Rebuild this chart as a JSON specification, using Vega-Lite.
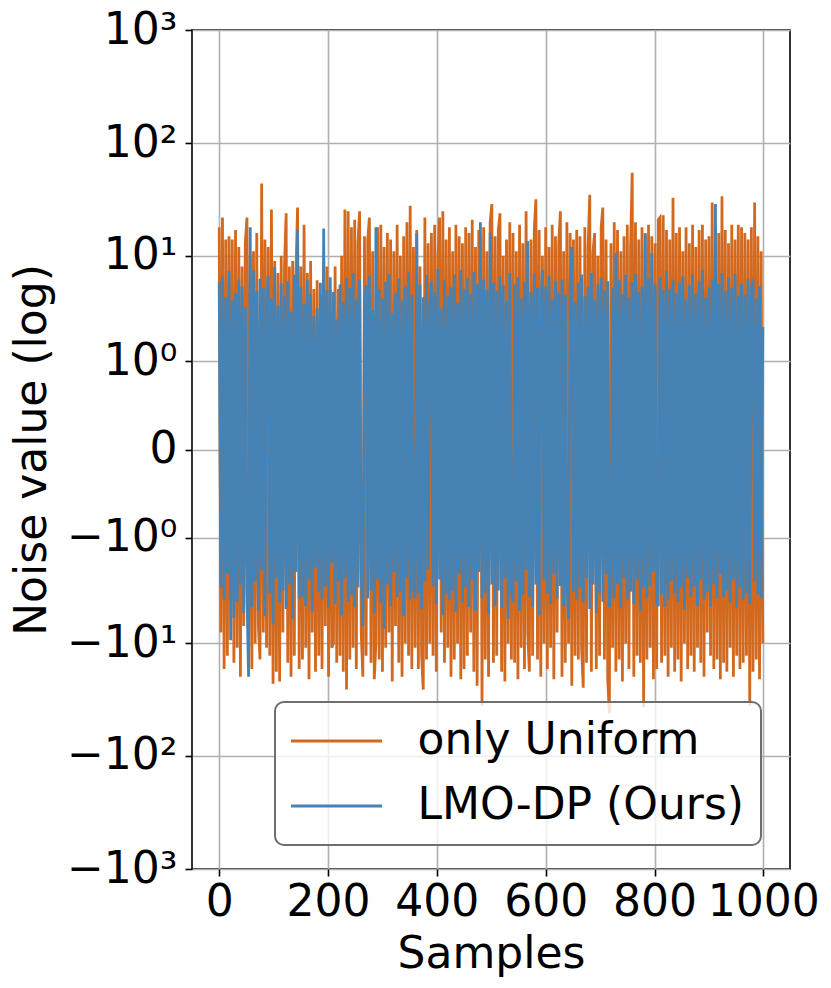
{
  "$schema": "https://vega.github.io/schema/vega-lite/v6.json",
  "width": 598,
  "height": 839,
  "autosize": {"type": "none"},
  "padding": {"left": 192, "top": 30, "right": 41, "bottom": 119},
  "background": "white",
  "config": {
    "font": "DejaVu Sans",
    "view": {"stroke": "#000000", "strokeWidth": 1.6},
    "axis": {
      "domain": false, "grid": true, "gridColor": "#b0b0b0", "gridWidth": 1.6,
      "tickColor": "#000000", "tickWidth": 1.6, "tickSize": 7,
      "labelFont": "DejaVu Sans", "labelFontSize": 44, "labelColor": "#000000",
      "titleFont": "DejaVu Sans", "titleFontSize": 44, "titleFontWeight": "normal", "titleColor": "#000000",
      "labelFlush": false, "labelOverlap": false
    },
    "legend": {"strokeWidth": 2}
  },
  "data": {"values": [
    {"x":0,"u":18,"l":5.8},{"x":3,"u":-8,"l":-3.1},{"x":6,"u":22,"l":6.5},{"x":9,"u":-17,"l":-4.0},{"x":12,"u":14,"l":4.2},
    {"x":15,"u":-13,"l":-2.3},{"x":18,"u":15,"l":7.3},{"x":21,"u":-4,"l":-9.4},{"x":24,"u":14,"l":3.9},{"x":27,"u":-15,"l":-5.9},
    {"x":30,"u":17,"l":4.6},{"x":33,"u":-11,"l":-4.2},{"x":36,"u":12,"l":6.1},{"x":39,"u":-20,"l":-2.9},{"x":42,"u":8,"l":5.3},
    {"x":45,"u":-7,"l":-5.3},{"x":48,"u":13,"l":3.4},{"x":51,"u":22,"l":-3.6},{"x":54,"u":-13,"l":-20},{"x":57,"u":10,"l":18},
    {"x":60,"u":-17,"l":-4.7},{"x":63,"u":11,"l":7.4},{"x":66,"u":-10,"l":-2.7},{"x":69,"u":16,"l":4.8},{"x":72,"u":-7,"l":-5.1},
    {"x":75,"u":-14,"l":6.2},{"x":78,"u":44,"l":-2.1},{"x":81,"u":-8,"l":5.1},{"x":84,"u":14,"l":-5.7},{"x":87,"u":-11,"l":3.8},
    {"x":90,"u":12,"l":6.6},{"x":93,"u":-13,"l":-3.5},{"x":96,"u":26,"l":4.1},{"x":99,"u":-23,"l":-6.8},{"x":102,"u":9,"l":7.9},
    {"x":105,"u":-18,"l":-2.5},{"x":108,"u":7,"l":3.5},{"x":111,"u":-22,"l":-4.3},{"x":114,"u":10,"l":5.6},{"x":117,"u":-8,"l":-3.3},
    {"x":120,"u":8,"l":4.3},{"x":123,"u":24,"l":-4.9},{"x":126,"u":-15,"l":5.9},{"x":129,"u":8,"l":-2.9},{"x":132,"u":-20,"l":3.1},
    {"x":135,"u":9,"l":-6.0},{"x":138,"u":-13,"l":6.8},{"x":141,"u":7,"l":-2.2},{"x":144,"u":27,"l":17},{"x":147,"u":-17,"l":-3.9},
    {"x":150,"u":8,"l":5.2},{"x":153,"u":-14,"l":-3.8},{"x":156,"u":19,"l":3.6},{"x":159,"u":-11,"l":-4.6},{"x":162,"u":7,"l":6.0},
    {"x":165,"u":-21,"l":-2.6},{"x":168,"u":9,"l":4.5},{"x":171,"u":-8,"l":-5.2},{"x":174,"u":5,"l":2.8},{"x":177,"u":-18,"l":-2.0},
    {"x":180,"u":6,"l":3.3},{"x":183,"u":-13,"l":-3.4},{"x":186,"u":4.5,"l":5.7},{"x":189,"u":-17,"l":-4.0},{"x":192,"u":9,"l":17.6},
    {"x":195,"u":-7,"l":-3.0},{"x":198,"u":8,"l":4.9},{"x":201,"u":-20,"l":-4.8},{"x":204,"u":5,"l":6.4},{"x":207,"u":-11,"l":-1.8},
    {"x":210,"u":-10,"l":4.7},{"x":213,"u":8,"l":-4.4},{"x":216,"u":-15,"l":2.6},{"x":219,"u":5,"l":-2.7},{"x":222,"u":-13,"l":5.5},
    {"x":225,"u":10,"l":-5.6},{"x":228,"u":-18,"l":3.8},{"x":231,"u":26,"l":-2.5},{"x":234,"u":-26,"l":6.3},{"x":237,"u":25,"l":-4.2},
    {"x":240,"u":-14,"l":5.1},{"x":243,"u":18,"l":-3.6},{"x":246,"u":-11,"l":7.0},{"x":249,"u":21,"l":-4.7},{"x":252,"u":-17,"l":4.0},
    {"x":255,"u":13,"l":-3.1},{"x":258,"u":25,"l":6.1},{"x":261,"u":-8,"l":-2.3},{"x":264,"u":-20,"l":-7},{"x":267,"u":15,"l":3.7},
    {"x":270,"u":-13,"l":5.4},{"x":273,"u":14,"l":-3.9},{"x":276,"u":22,"l":6.6},{"x":279,"u":-15,"l":-3.3},{"x":282,"u":11,"l":3.2},
    {"x":285,"u":-21,"l":-5.3},{"x":288,"u":-10,"l":18},{"x":291,"u":18,"l":-2.6},{"x":294,"u":-14,"l":5.0},{"x":297,"u":19,"l":-4.3},
    {"x":300,"u":-18,"l":4.1},{"x":303,"u":12,"l":-7.4},{"x":306,"u":-11,"l":5.8},{"x":309,"u":16,"l":-2.9},{"x":312,"u":-8,"l":6.9},
    {"x":315,"u":14,"l":-4.6},{"x":318,"u":-22,"l":3.0},{"x":321,"u":11,"l":-2.2},{"x":324,"u":-7,"l":4.6},{"x":327,"u":19,"l":-3.8},
    {"x":330,"u":-15,"l":6.2},{"x":333,"u":10,"l":-3.4},{"x":336,"u":-20,"l":3.9},{"x":339,"u":15,"l":-5.7},{"x":342,"u":-10,"l":5.3},
    {"x":345,"u":20,"l":-2.5},{"x":348,"u":-13,"l":7.1},{"x":351,"u":28,"l":-4.0},{"x":354,"u":-17,"l":4.4},{"x":357,"u":12,"l":-3.1},
    {"x":360,"u":-11,"l":-3.9},{"x":363,"u":17,"l":16},{"x":366,"u":-17,"l":-3.5},{"x":369,"u":8,"l":5.5},{"x":372,"u":-13,"l":-4.9},
    {"x":375,"u":-26,"l":4.2},{"x":378,"u":22,"l":-2.7},{"x":381,"u":-14,"l":6.7},{"x":384,"u":13,"l":-2.1},{"x":387,"u":-10,"l":3.6},
    {"x":390,"u":16,"l":5.9},{"x":393,"u":-13,"l":-3.0},{"x":396,"u":19,"l":4.7},{"x":399,"u":-18,"l":-4.4},{"x":402,"u":10,"l":7.6},
    {"x":405,"u":22,"l":-2.6},{"x":408,"u":-8,"l":3.3},{"x":411,"u":25,"l":-5.6},{"x":414,"u":-15,"l":6.0},{"x":417,"u":14,"l":-3.6},
    {"x":420,"u":-11,"l":4.3},{"x":423,"u":18,"l":-4.0},{"x":426,"u":-20,"l":5.2},{"x":429,"u":11,"l":-3.3},{"x":432,"u":-14,"l":6.8},
    {"x":435,"u":19,"l":-5.2},{"x":438,"u":-10,"l":3.7},{"x":441,"u":15,"l":-2.3},{"x":444,"u":-21,"l":7.4},{"x":447,"u":13,"l":-4.3},
    {"x":450,"u":-17,"l":5.0},{"x":453,"u":18,"l":-3.1},{"x":456,"u":-13,"l":6.3},{"x":459,"u":16,"l":-4.7},{"x":462,"u":-8,"l":4.5},
    {"x":465,"u":21,"l":-2.6},{"x":468,"u":-18,"l":7.2},{"x":471,"u":12,"l":-5.1},{"x":474,"u":-24,"l":5.6},{"x":477,"u":17,"l":-2.2},
    {"x":480,"u":14,"l":20},{"x":483,"u":-36,"l":-3.9},{"x":486,"u":18,"l":6.1},{"x":489,"u":-14,"l":-3.5},{"x":492,"u":11,"l":4.9},
    {"x":495,"u":-20,"l":-5.5},{"x":498,"u":20,"l":16},{"x":501,"u":29,"l":-2.9},{"x":504,"u":-15,"l":5.7},{"x":507,"u":15,"l":-4.6},
    {"x":510,"u":-13,"l":4.8},{"x":513,"u":17,"l":-3.3},{"x":516,"u":24,"l":6.5},{"x":519,"u":-18,"l":-4.8},{"x":522,"u":10,"l":5.4},
    {"x":525,"u":-22,"l":-2.5},{"x":528,"u":14,"l":3.9},{"x":531,"u":-10,"l":-6.0},{"x":534,"u":20,"l":7.0},{"x":537,"u":-14,"l":-3.4},
    {"x":540,"u":16,"l":-4.2},{"x":543,"u":-15,"l":5.5},{"x":546,"u":11,"l":-2.7},{"x":549,"u":-21,"l":6.4},{"x":552,"u":19,"l":-5.1},
    {"x":555,"u":-11,"l":4.1},{"x":558,"u":13,"l":-3.6},{"x":561,"u":-17,"l":5.8},{"x":564,"u":25,"l":-2.1},{"x":567,"u":-8,"l":13.6},
    {"x":570,"u":-18,"l":-3.8},{"x":573,"u":14,"l":4.7},{"x":576,"u":-13,"l":-4.7},{"x":579,"u":17,"l":6.9},{"x":582,"u":32,"l":-2.9},
    {"x":585,"u":-14,"l":5.1},{"x":588,"u":17,"l":-5.6},{"x":591,"u":-20,"l":3.4},{"x":594,"u":10,"l":7.5},{"x":597,"u":-10,"l":-2.6},
    {"x":600,"u":18,"l":5.3},{"x":603,"u":-17,"l":-3.5},{"x":606,"u":12,"l":6.6},{"x":609,"u":-11,"l":-4.4},{"x":612,"u":19,"l":4.0},
    {"x":615,"u":-21,"l":-2.3},{"x":618,"u":15,"l":5.9},{"x":621,"u":-8,"l":-3.9},{"x":624,"u":13,"l":4.6},{"x":627,"u":25,"l":-3.0},
    {"x":630,"u":-20,"l":6.1},{"x":633,"u":11,"l":-4.6},{"x":636,"u":-15,"l":4.4},{"x":639,"u":20,"l":-2.7},{"x":642,"u":-10,"l":-6},
    {"x":645,"u":16,"l":5.0},{"x":648,"u":-24,"l":12},{"x":651,"u":14,"l":-3.4},{"x":654,"u":-13,"l":3.8},{"x":657,"u":17,"l":-4.0},
    {"x":660,"u":-14,"l":5.7},{"x":663,"u":15,"l":-3.1},{"x":666,"u":-11,"l":6.8},{"x":669,"u":-25,"l":-4.3},{"x":672,"u":18,"l":4.3},
    {"x":675,"u":-15,"l":-2.5},{"x":678,"u":12,"l":5.2},{"x":681,"u":35,"l":-4.9},{"x":684,"u":-18,"l":7.0},{"x":687,"u":11,"l":-2.9},
    {"x":690,"u":16,"l":4.0},{"x":693,"u":-17,"l":-5.3},{"x":696,"u":10,"l":5.5},{"x":699,"u":-13,"l":-3.5},{"x":702,"u":18,"l":6.3},
    {"x":705,"u":27,"l":-4.2},{"x":708,"u":-14,"l":4.8},{"x":711,"u":14,"l":-2.3},{"x":714,"u":-21,"l":5.9},{"x":717,"u":-42,"l":-4.7},
    {"x":720,"u":13,"l":-3.3},{"x":723,"u":-11,"l":5.1},{"x":726,"u":20,"l":-3.9},{"x":729,"u":-18,"l":10.6},{"x":732,"u":17,"l":-2.9},
    {"x":735,"u":-14,"l":6.0},{"x":738,"u":11,"l":-4.8},{"x":741,"u":-22,"l":4.5},{"x":744,"u":15,"l":-2.5},{"x":747,"u":-10,"l":6.7},
    {"x":750,"u":19,"l":-4.0},{"x":753,"u":-17,"l":4.2},{"x":756,"u":12,"l":-3.4},{"x":759,"u":55,"l":5.8},{"x":762,"u":-20,"l":-4.4},
    {"x":765,"u":20,"l":6.9},{"x":768,"u":-13,"l":-2.6},{"x":771,"u":14,"l":4.7},{"x":774,"u":-15,"l":-5.1},{"x":777,"u":18,"l":5.3},
    {"x":780,"u":-37,"l":-3.1},{"x":783,"u":16,"l":15.6},{"x":786,"u":-14,"l":-3.9},{"x":789,"u":19,"l":6.2},{"x":792,"u":-11,"l":-3.0},
    {"x":795,"u":15,"l":10.6},{"x":798,"u":-21,"l":-2.2},{"x":801,"u":13,"l":5.5},{"x":804,"u":-17,"l":-4.3},{"x":807,"u":21,"l":-4.6},
    {"x":810,"u":22,"l":6.4},{"x":813,"u":-15,"l":-3.6},{"x":816,"u":23,"l":4.9},{"x":819,"u":-13,"l":-4.7},{"x":822,"u":17,"l":7.3},
    {"x":825,"u":-20,"l":-4.0},{"x":828,"u":14,"l":5.0},{"x":831,"u":-11,"l":-2.7},{"x":834,"u":33,"l":6.0},{"x":837,"u":-18,"l":-3.5},
    {"x":840,"u":16,"l":4.6},{"x":843,"u":-14,"l":-4.2},{"x":846,"u":18,"l":5.7},{"x":849,"u":-22,"l":-3.1},{"x":852,"u":11,"l":6.5},
    {"x":855,"u":-10,"l":-4.9},{"x":858,"u":18,"l":4.0},{"x":861,"u":-17,"l":-2.5},{"x":864,"u":13,"l":5.4},{"x":867,"u":-13,"l":-3.8},
    {"x":870,"u":19,"l":6.8},{"x":873,"u":-18,"l":-3.0},{"x":876,"u":12,"l":4.5},{"x":879,"u":-11,"l":-4.6},{"x":882,"u":17,"l":5.9},
    {"x":885,"u":-15,"l":-2.6},{"x":888,"u":19,"l":7.4},{"x":891,"u":-20,"l":-4.0},{"x":894,"u":14,"l":4.2},{"x":897,"u":-8,"l":-3.4},
    {"x":900,"u":15,"l":5.2},{"x":903,"u":-13,"l":-4.7},{"x":906,"u":30,"l":6.1},{"x":909,"u":-17,"l":-2.9},{"x":912,"u":18,"l":29},
    {"x":915,"u":-14,"l":-3.9},{"x":918,"u":16,"l":5.6},{"x":921,"u":-21,"l":-2.3},{"x":924,"u":34,"l":7.0},{"x":927,"u":-15,"l":-3.8},
    {"x":930,"u":17,"l":4.8},{"x":933,"u":-18,"l":-3.3},{"x":936,"u":13,"l":6.4},{"x":939,"u":-11,"l":-4.3},{"x":942,"u":19,"l":5.1},
    {"x":945,"u":-20,"l":-2.6},{"x":948,"u":14,"l":6.9},{"x":951,"u":-13,"l":-4.8},{"x":954,"u":19,"l":4.3},{"x":957,"u":-17,"l":-3.1},
    {"x":960,"u":18,"l":5.6},{"x":963,"u":-15,"l":-4.0},{"x":966,"u":16,"l":4.4},{"x":969,"u":-13,"l":-3.5},{"x":972,"u":14,"l":6.2},
    {"x":975,"u":-36,"l":-4.4},{"x":978,"u":18,"l":5.0},{"x":981,"u":-18,"l":6.1},{"x":984,"u":30,"l":-2.7},{"x":987,"u":-14,"l":4.1},
    {"x":990,"u":15,"l":-3.6},{"x":993,"u":-21,"l":5.3},{"x":996,"u":11,"l":-3.9},{"x":999,"u":-10,"l":2.2}
  ]},
  "encoding": {
    "x": {
      "field": "x", "type": "quantitative",
      "scale": {"domain": [-50, 1049], "nice": false, "zero": false},
      "axis": {"title": "Samples", "values": [0, 200, 400, 600, 800, 1000], "format": "d", "labelPadding": 4, "titlePadding": 8}
    }
  },
  "layer": [
    {
      "mark": {"type": "line", "strokeWidth": 2.8, "clip": true},
      "encoding": {
        "y": {
          "field": "u", "type": "quantitative",
          "scale": {"type": "symlog", "constant": 0.2, "domain": [-1000, 1000], "nice": false},
          "axis": {
            "title": "Noise value (log)",
            "values": [-1000, -100, -10, -1, 0, 1, 10, 100, 1000],
            "labelExpr": "(datum.value < 0 ? '−' : '') + (abs(datum.value) == 1000 ? '10³' : abs(datum.value) == 100 ? '10²' : abs(datum.value) == 10 ? '10¹' : abs(datum.value) == 1 ? '10⁰' : '0')",
            "labelPadding": 8, "titlePadding": 12
          }
        },
        "color": {
          "datum": "only Uniform", "type": "nominal",
          "scale": {"domain": ["only Uniform", "LMO-DP (Ours)"], "range": ["#d2691e", "#4682b4"]},
          "legend": {
            "title": null, "orient": "none", "legendX": 83, "legendY": 672,
            "padding": 17, "rowPadding": 21, "symbolType": "M-2.6,0H2.6", "symbolSize": 1225,
            "symbolStrokeWidth": 2.8, "symbolOffset": 22.5, "labelOffset": 59,
            "labelFont": "DejaVu Sans", "labelFontSize": 44, "labelColor": "#000000", "labelLimit": 600,
            "strokeColor": "#6e6e6e", "cornerRadius": 9, "fillColor": "rgba(255,255,255,0.8)"
          }
        }
      }
    },
    {
      "mark": {"type": "line", "strokeWidth": 2.8, "clip": true},
      "encoding": {
        "y": {
          "field": "l", "type": "quantitative",
          "scale": {"type": "symlog", "constant": 0.2, "domain": [-1000, 1000], "nice": false},
          "axis": {
            "title": "Noise value (log)",
            "values": [-1000, -100, -10, -1, 0, 1, 10, 100, 1000],
            "labelExpr": "(datum.value < 0 ? '−' : '') + (abs(datum.value) == 1000 ? '10³' : abs(datum.value) == 100 ? '10²' : abs(datum.value) == 10 ? '10¹' : abs(datum.value) == 1 ? '10⁰' : '0')",
            "labelPadding": 8, "titlePadding": 12
          }
        },
        "color": {
          "datum": "LMO-DP (Ours)", "type": "nominal",
          "scale": {"domain": ["only Uniform", "LMO-DP (Ours)"], "range": ["#d2691e", "#4682b4"]},
          "legend": {
            "title": null, "orient": "none", "legendX": 83, "legendY": 672,
            "padding": 17, "rowPadding": 21, "symbolType": "M-2.6,0H2.6", "symbolSize": 1225,
            "symbolStrokeWidth": 2.8, "symbolOffset": 22.5, "labelOffset": 59,
            "labelFont": "DejaVu Sans", "labelFontSize": 44, "labelColor": "#000000", "labelLimit": 600,
            "strokeColor": "#6e6e6e", "cornerRadius": 9, "fillColor": "rgba(255,255,255,0.8)"
          }
        }
      }
    }
  ]
}
